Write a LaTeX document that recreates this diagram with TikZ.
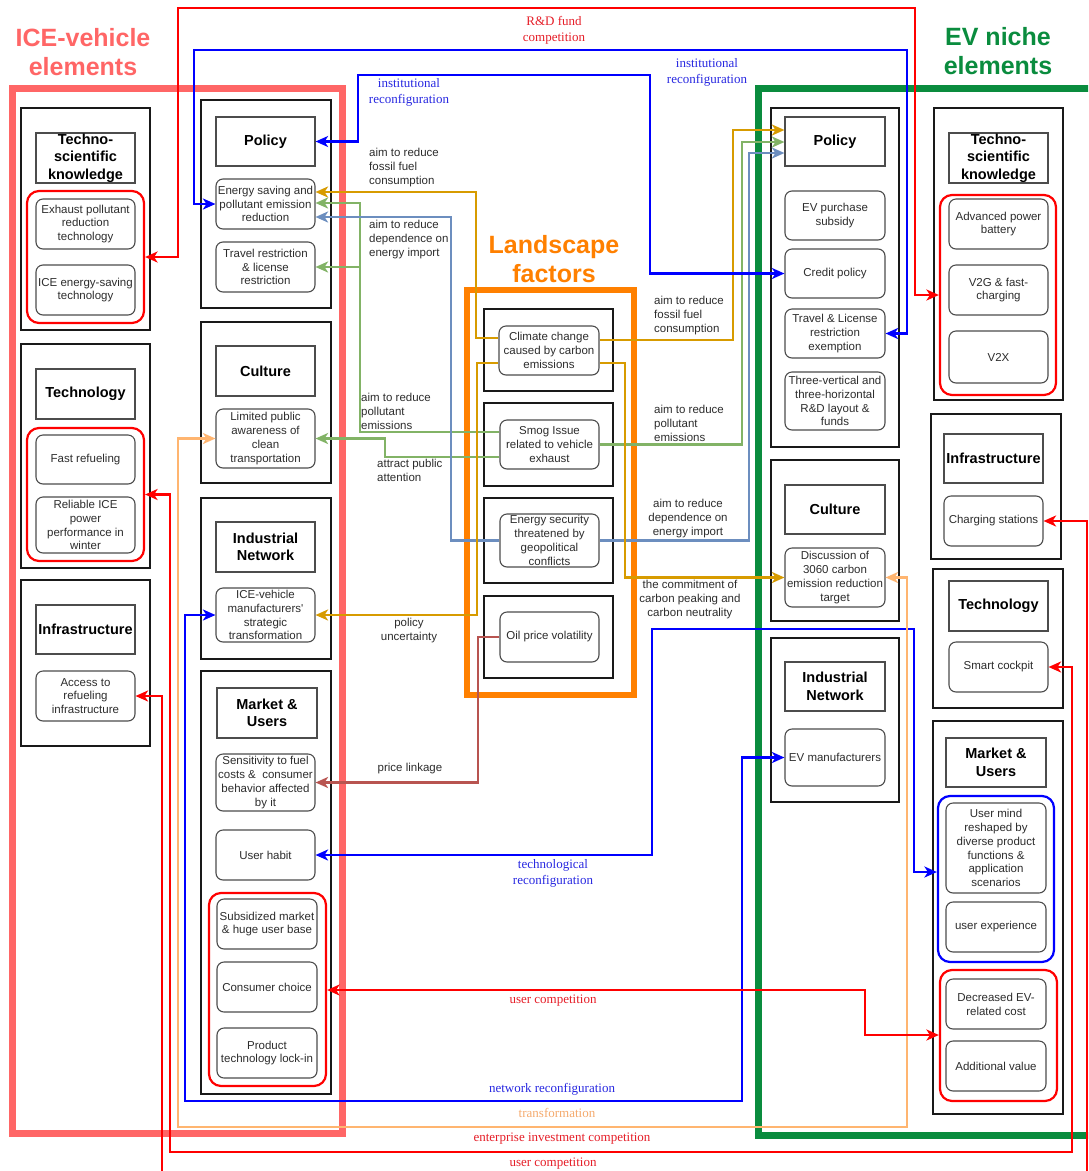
\documentclass[tikz,border=0pt]{standalone}
\usepackage{fontspec}
\newfontfamily\sansf{Liberation Sans}
\newfontfamily\seriff{Liberation Serif}
\usetikzlibrary{arrows.meta}

\definecolor{icePink}{RGB}{255,102,102}
\definecolor{evGreen}{RGB}{10,140,62}
\definecolor{landOrange}{RGB}{255,128,0}
\definecolor{cGold}{RGB}{215,155,0}
\definecolor{cGreen}{RGB}{130,179,102}
\definecolor{cSteel}{RGB}{108,142,191}
\definecolor{cBrown}{RGB}{184,84,80}
\definecolor{cBlue}{RGB}{0,0,255}
\definecolor{cRed}{RGB}{255,0,0}
\definecolor{cPeach}{RGB}{255,181,112}
\definecolor{lblRed}{RGB}{230,30,40}
\definecolor{lblBlue}{RGB}{40,40,225}
\definecolor{lblPeach}{RGB}{245,170,110}
\definecolor{inkDark}{RGB}{45,45,45}

\newcommand\boxtxt{\sansf\fontsize{11.5}{13.8}\selectfont}
\newcommand\headtxt{\sansf\bfseries\fontsize{14.5}{17.5}\selectfont}
\newcommand\titletxt{\sansf\bfseries\fontsize{25}{29}\selectfont}
\newcommand\labtxt{\sansf\fontsize{11.5}{14}\selectfont}
\newcommand\sertxt{\seriff\fontsize{13}{16}\selectfont}

\begin{document}
\begin{tikzpicture}[
  x=1pt, y=-1pt,
  >={Stealth[length=12.5pt,width=11pt,inset=3.5pt]},
  wh/.style 2 args={minimum width=#1pt, minimum height=#2pt},
  bigbox/.style={draw=black!90, line width=2pt, inner sep=0pt},
  hdr/.style={draw=black!70, line width=1.2pt, font=\headtxt, align=center, inner sep=0pt},
  itm/.style={draw=black!70, line width=1.1pt, rounded corners=7pt, font=\boxtxt, align=center, inner sep=0pt, text=inkDark},
  grp/.style={draw=#1, line width=2.2pt, rounded corners=12pt, inner sep=0pt},
  conn/.style={line width=2.5pt},
  lab/.style={font=\labtxt, text=inkDark, inner sep=0pt, align=left},
  ser/.style={font=\sertxt, inner sep=0pt, align=center},
  ttl/.style={font=\titletxt, inner sep=0pt, align=center}
]
\useasboundingbox (0,0) rectangle (1088,1171);
\clip (0,0) rectangle (1088,1171);
\fill[white] (0,0) rectangle (1088,1171);

% ---------- titles ----------
\node[ttl, text=icePink] (ice_title) at (83,52) {ICE-vehicle\\elements};
\node[ttl, text=landOrange] (land_title) at (554,259) {Landscape\\factors};
\node[ttl, text=evGreen] (ev_title) at (998,51) {EV niche\\elements};

% ---------- outer frames ----------
\draw[icePink, line width=7pt] (12,88) rectangle (342,1133);
\draw[evGreen, line width=7pt] (758,88) rectangle (1096,1135);
\draw[landOrange, line width=6pt] (467,290) rectangle (634,695);

% ---------- ICE: first column ----------
\node[bigbox, wh={129}{222}] (ice_tsk_box) at (85.5,219) {};
\node[hdr, wh={99}{50}] (ice_tsk_hd) at (85.5,158) {Techno-\\scientific\\knowledge};
\node[grp=cRed, wh={117}{132}] (ice_tsk_grp) at (85.5,257) {};
\node[itm, wh={99}{50}] (ice_exhaust) at (85.5,224) {Exhaust pollutant\\reduction\\technology};
\node[itm, wh={99}{50}] (ice_energysave) at (85.5,290) {ICE energy-saving\\technology};

\node[bigbox, wh={129}{224}] (ice_tech_box) at (85.5,456) {};
\node[hdr, wh={99}{50}] (ice_tech_hd) at (85.5,394) {Technology};
\node[grp=cRed, wh={117}{133}] (ice_tech_grp) at (85.5,494.5) {};
\node[itm, wh={99}{49}] (ice_fastref) at (85.5,459.5) {Fast refueling};
\node[itm, wh={99}{56}] (ice_reliable) at (85.5,525) {Reliable ICE\\power\\performance in\\winter};

\node[bigbox, wh={129}{166}] (ice_infra_box) at (85.5,663) {};
\node[hdr, wh={99}{49}] (ice_infra_hd) at (85.5,629.5) {Infrastructure};
\node[itm, wh={99}{50}] (ice_access) at (85.5,696) {Access to\\refueling\\infrastructure};

% ---------- ICE: second column ----------
\node[bigbox, wh={130}{208}] (ice_pol_box) at (266,204) {};
\node[hdr, wh={99}{49}] (ice_pol_hd) at (265.5,141.5) {Policy};
\node[itm, wh={99}{50}] (ice_esave) at (265.5,204) {Energy saving and\\pollutant emission\\reduction};
\node[itm, wh={99}{50}] (ice_travel) at (265.5,267) {Travel restriction\\\& license\\restriction};

\node[bigbox, wh={130}{161}] (ice_cul_box) at (266,402.5) {};
\node[hdr, wh={99}{50}] (ice_cul_hd) at (265.5,371) {Culture};
\node[itm, wh={99}{59}] (ice_limited) at (265.5,438.5) {Limited public\\awareness of\\clean\\transportation};

\node[bigbox, wh={130}{161}] (ice_ind_box) at (266,578.5) {};
\node[hdr, wh={99}{50}] (ice_ind_hd) at (265.5,547) {Industrial\\Network};
\node[itm, wh={99}{54}] (ice_manuf) at (265.5,615) {ICE-vehicle\\manufacturers'\\strategic\\transformation};

\node[bigbox, wh={130}{423}] (ice_mkt_box) at (266,882.5) {};
\node[hdr, wh={100}{50}] (ice_mkt_hd) at (267,713) {Market \&\\Users};
\node[itm, wh={99}{57}] (ice_sens) at (265.5,782.5) {Sensitivity to fuel\\costs \&\ \ consumer\\behavior affected\\by it};
\node[itm, wh={99}{50}] (ice_habit) at (265.5,855) {User habit};
\node[grp=cRed, wh={117}{193}] (ice_mkt_grp) at (267.5,989.5) {};
\node[itm, wh={100}{50}] (ice_subsid) at (267,924) {Subsidized market\\\& huge user base};
\node[itm, wh={100}{50}] (ice_choice) at (267,987) {Consumer choice};
\node[itm, wh={100}{50}] (ice_lockin) at (267,1053) {Product\\technology lock-in};

% ---------- landscape factors ----------
\node[bigbox, wh={129}{82}] (land_b1) at (548.5,350) {};
\node[itm, wh={100}{49}] (climate) at (549,350.5) {Climate change\\caused by carbon\\emissions};
\node[bigbox, wh={129}{83}] (land_b2) at (548.5,444.5) {};
\node[itm, wh={99}{49}] (smog) at (549.5,444.5) {Smog Issue\\related to vehicle\\exhaust};
\node[bigbox, wh={129}{85}] (land_b3) at (548.5,540.5) {};
\node[itm, wh={99}{53}] (energysec) at (549.5,540.5) {Energy security\\threatened by\\geopolitical\\conflicts};
\node[bigbox, wh={129}{82}] (land_b4) at (548.5,637) {};
\node[itm, wh={99}{50}] (oilprice) at (549.5,637) {Oil price volatility};

% ---------- EV: first column ----------
\node[bigbox, wh={128}{339}] (ev_pol_box) at (835,277.5) {};
\node[hdr, wh={100}{49}] (ev_pol_hd) at (835,141.5) {Policy};
\node[itm, wh={100}{49}] (ev_subsidy) at (835,215.5) {EV purchase\\subsidy};
\node[itm, wh={100}{49}] (ev_credit) at (835,273.5) {Credit policy};
\node[itm, wh={100}{49}] (ev_travel) at (835,333.5) {Travel \& License\\restriction\\exemption};
\node[itm, wh={100}{58}] (ev_rd) at (835,401) {Three-vertical and\\three-horizontal\\R\&D layout \&\\funds};

\node[bigbox, wh={128}{161}] (ev_cul_box) at (835,540.5) {};
\node[hdr, wh={100}{49}] (ev_cul_hd) at (835,509.5) {Culture};
\node[itm, wh={100}{59}] (ev_disc) at (835,577.5) {Discussion of\\3060 carbon\\emission reduction\\target};

\node[bigbox, wh={128}{164}] (ev_ind_box) at (835,720) {};
\node[hdr, wh={100}{49}] (ev_ind_hd) at (835,686.5) {Industrial\\Network};
\node[itm, wh={100}{57}] (ev_manuf) at (835,757.5) {EV manufacturers};

% ---------- EV: second column ----------
\node[bigbox, wh={129}{292}] (ev_tsk_box) at (998.5,254) {};
\node[hdr, wh={99}{50}] (ev_tsk_hd) at (998.5,158) {Techno-\\scientific\\knowledge};
\node[grp=cRed, wh={116}{200}] (ev_tsk_grp) at (998,295) {};
\node[itm, wh={99}{50}] (ev_battery) at (998.5,224) {Advanced power\\battery};
\node[itm, wh={99}{50}] (ev_v2g) at (998.5,290) {V2G \& fast-\\charging};
\node[itm, wh={99}{52}] (ev_v2x) at (998.5,357) {V2X};

\node[bigbox, wh={130}{145}] (ev_infra_box) at (996,486.5) {};
\node[hdr, wh={99}{49}] (ev_infra_hd) at (993.5,458.5) {Infrastructure};
\node[itm, wh={99}{50}] (ev_charging) at (993.5,521) {Charging stations};

\node[bigbox, wh={130}{139}] (ev_tech_box) at (998,638.5) {};
\node[hdr, wh={99}{50}] (ev_tech_hd) at (998.5,606) {Technology};
\node[itm, wh={99}{50}] (ev_cockpit) at (998.5,667) {Smart cockpit};

\node[bigbox, wh={130}{393}] (ev_mkt_box) at (998,917.5) {};
\node[hdr, wh={100}{49}] (ev_mkt_hd) at (996,762.5) {Market \&\\Users};
\node[grp=cBlue, wh={116}{166}] (ev_mkt_blue) at (996,879) {};
\node[itm, wh={100}{90}] (ev_mind) at (996,848) {User mind\\reshaped by\\diverse product\\functions \&\\application\\scenarios};
\node[itm, wh={100}{50}] (ev_userexp) at (996,927) {user experience};
\node[grp=cRed, wh={117}{131}] (ev_mkt_red) at (998.5,1035.5) {};
\node[itm, wh={100}{50}] (ev_cost) at (996,1004) {Decreased EV-\\related cost};
\node[itm, wh={100}{50}] (ev_addval) at (996,1066) {Additional value};

% ---------- landscape pressures ----------
\draw[conn, cGold, ->] (climate.west |- 0,338) -| (476,192) -- (ice_esave.east |- 0,192);
\draw[conn, cGold, ->] (climate.east |- 0,340) -| (733,130) -- (ev_pol_hd.west |- 0,130);
\draw[conn, cGreen, ->] (smog.west |- 0,432) -| (360,203) -- (ice_esave.east |- 0,203);
\coordinate (green_split) at (360,267);
\draw[conn, cGreen, ->] (green_split) -- (ice_travel.east);
\draw[conn, cGreen, ->] (smog.west |- 0,457) -| (385,438.5) -- (ice_limited.east);
\draw[conn, cGreen, ->] (smog.east) -| (742,142) -- (ev_pol_hd.west |- 0,142);
\draw[conn, cSteel, ->] (energysec.west) -| (451,217) -- (ice_esave.east |- 0,217);
\draw[conn, cSteel, ->] (energysec.east) -| (749,153) -- (ev_pol_hd.west |- 0,153);
\draw[conn, cGold, ->] (climate.east |- 0,363) -| (625,577.5) -- (ev_disc.west);
\draw[conn, cGold, ->] (climate.west |- 0,363) -| (477,615) -- (ice_manuf.east);
\draw[conn, cBrown, ->] (oilprice.west) -| (478,782.5) -- (ice_sens.east);

% ---------- regime / niche interactions ----------
\draw[conn, cRed, <->] (ice_tsk_grp.east) -| (178,8) -| (915,295) -- (ev_tsk_grp.west);
\draw[conn, cBlue, <->] (ice_pol_hd.east) -| (358,75) -| (650,273.5) -- (ev_credit.west);
\draw[conn, cBlue, <->] (ice_esave.west) -| (194,50) -| (907,333.5) -- (ev_travel.east);
\draw[conn, cBlue, <->] (ice_habit.east) -| (652,629) -| (914,872) -- (ev_mkt_blue.west |- 0,872);
\draw[conn, cBlue, <->] (ice_manuf.west) -| (185,1101) -| (742,757.5) -- (ev_manuf.west);
\draw[conn, cPeach, <->] (ice_limited.west) -| (178,1127) -| (907,577.5) -- (ev_disc.east);
\draw[conn, cRed, <->] (ice_tech_grp.east) -| (170,1152) -| (1072,667) -- (ev_cockpit.east);
\draw[conn, cRed, <->] (ice_access.east) -| (162,1190) -| (1087,521) -- (ev_charging.east);
\draw[conn, cRed, <->] (ice_mkt_grp.east |- 0,990) -| (865,1035) -- (ev_mkt_red.west |- 0,1035);

% ---------- connector labels ----------
\node[lab, anchor=west] (t_fossil_l) at (369,168) {aim to reduce\\fossil fuel\\consumption};
\node[lab, anchor=west] (t_import_l) at (369,240) {aim to reduce\\dependence on\\energy import};
\node[lab, anchor=west] (t_pollut_l) at (361,411) {aim to reduce\\pollutant\\emissions};
\node[lab, anchor=west] (t_attract) at (377,470) {attract public\\attention};
\node[lab, align=center] (t_uncert) at (409,631) {policy\\uncertainty};
\node[lab] (t_price) at (410,769) {price linkage};
\node[lab, anchor=west] (t_fossil_r) at (654,316) {aim to reduce\\fossil fuel\\consumption};
\node[lab, anchor=west] (t_pollut_r) at (654,423) {aim to reduce\\pollutant\\emissions};
\node[lab, align=center] (t_import_r) at (688,519) {aim to reduce\\dependence on\\energy import};
\node[lab, align=center] (t_commit) at (690,600) {the commitment of\\carbon peaking and\\carbon neutrality};

\node[ser, text=lblRed] (t_rd) at (554,30) {R\&D fund\\competition};
\node[ser, text=lblBlue] (t_inst_l) at (409,92) {institutional\\reconfiguration};
\node[ser, text=lblBlue] (t_inst_r) at (707,72) {institutional\\reconfiguration};
\node[ser, text=lblBlue] (t_techrec) at (553,873) {technological\\reconfiguration};
\node[ser, text=lblRed] (t_usercomp_m) at (553,1001) {user competition};
\node[ser, text=lblBlue] (t_netrec) at (552,1089) {network reconfiguration};
\node[ser, text=lblPeach] (t_transf) at (557,1113) {transformation};
\node[ser, text=lblRed] (t_enterprise) at (562,1139) {enterprise investment competition};
\node[ser, text=lblRed] (t_usercomp_b) at (553,1164) {user competition};
\end{tikzpicture}
\end{document}
